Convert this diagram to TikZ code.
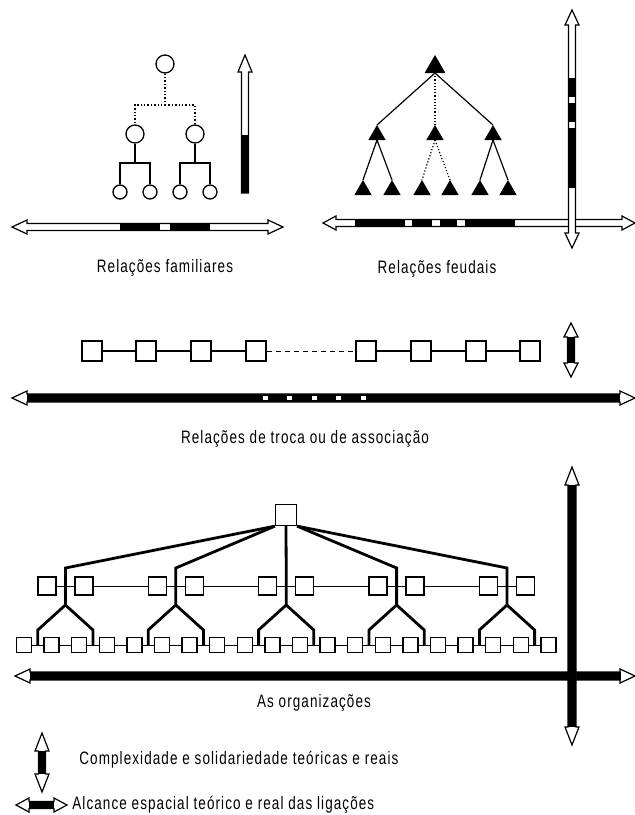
\documentclass[tikz,border=0pt]{standalone}
\usepackage{fontspec}
\setmainfont{Liberation Sans}
\newfontfamily\lblfont[FakeStretch=0.75,LetterSpace=6]{Liberation Sans}
\usetikzlibrary{shapes.geometric}

\def\shw{3.5}
% двойная стрелка: длина головки, левый конец, правый конец, y
\newcommand\hpipe[4][15]{%
    \draw[pipe] (#2,#4) -- ++(#1,-7) -- ++(0,{7-\shw}) -- ({#3-#1},{#4-\shw}) -- ++(0,{\shw-7})
        -- (#3,#4) -- ++(-#1,7) -- ++(0,{\shw-7}) -- ({#2+#1},{#4+\shw}) -- ++(0,{7-\shw}) -- cycle;}
% то же вертикально: длина головки, x, верхний конец, нижний конец
\newcommand\vpipe[4][15]{%
    \draw[pipe] (#2,#3) -- ++(7,#1) -- ++({\shw-7},0) -- ({#2+\shw},{#4-#1}) -- ++({7-\shw},0)
        -- (#2,#4) -- ++(-7,-#1) -- ++({7-\shw},0) -- ({#2-\shw},{#3+#1}) -- ++({\shw-7},0) -- cycle;}

\begin{document}
\begin{tikzpicture}[x=0.5pt, y=-0.5pt,
    pipe/.style={draw, fill=white, line width=0.6pt},
    circ/.style={circle, draw, fill=white, line width=0.65pt, inner sep=0pt, minimum size=#1},
    tri/.style={regular polygon, regular polygon sides=3, fill=black, inner sep=0pt, outer sep=0pt, minimum size=#1},
    box/.style={rectangle, draw, fill=white, line width=0.65pt, inner sep=0pt, minimum size=#1},
    famline/.style={line width=0.7pt},
    feuline/.style={line width=0.6pt},
    trocline/.style={line width=1pt},
    orgline/.style={line width=1.4pt},
    thinline/.style={line width=0.5pt},
    lbl/.style={font=\lblfont\fontsize{9}{11}\selectfont, inner sep=0pt}]
    \fill[white] (0,0) rectangle (635,815);
    \useasboundingbox (0,0) rectangle (635,815);

    % Семейные связи
    \node[circ=9pt] (avo) at (165,64) {};
    \node[circ=9pt] (pai1) at (135,134) {};
    \node[circ=9pt] (pai2) at (195,134) {};
    \foreach \n/\x in {f1/120, f2/150, f3/180, f4/210}
        \node[circ=7pt] (\n) at (\x,192) {};
    \coordinate (famtop) at (165,105);
    \coordinate (fam1) at (135,163);
    \coordinate (fam2) at (195,163);
    \draw[famline, densely dotted] (avo) -- (famtop) -| (pai1);
    \draw[famline, densely dotted] (famtop) -| (pai2);
    \draw[famline] (pai1) -- (fam1) -| (f1);
    \draw[famline] (fam1) -| (f2);
    \draw[famline] (pai2) -- (fam2) -| (f3);
    \draw[famline] (fam2) -| (f4);

    \draw[pipe] (245,55) -- (252,72) -- (248.5,72) -- (248.5,193) -- (241.5,193) -- (241.5,72) -- (238,72) -- cycle;
    \fill (241.5,135) rectangle (248.5,193);
    \hpipe{12}{283}{227}
    \fill (120,223.5) rectangle (160,230.5);
    \fill (170,223.5) rectangle (210,230.5);
    \node[lbl] (famlbl) at (165,268) {Relações familiares};

    % Феодальные связи
    \node[tri=12pt] (senhor) at (435,67) {};
    \foreach \n/\x in {v1/377, v2/435, v3/493}
        \node[tri=10pt] (\n) at (\x,135) {};
    \foreach \n/\x in {s1/363, s2/392, s3/422, s4/450, s5/480, s6/508}
        \node[tri=10pt] (\n) at (\x,190) {};
    \draw[feuline] (senhor.south) -- (v1.north);
    \draw[feuline, densely dotted] (senhor.south) -- (v2.north);
    \draw[feuline] (senhor.south) -- (v3.north);
    \draw[feuline] (v1.south) -- (s1.north);
    \draw[feuline] (v1.south) -- (s2.north);
    \draw[feuline, densely dotted] (v2.south) -- (s3.north);
    \draw[feuline, densely dotted] (v2.south) -- (s4.north);
    \draw[feuline] (v3.south) -- (s5.north);
    \draw[feuline] (v3.south) -- (s6.north);

    \hpipe[13]{323}{635}{223}
    \foreach \a/\b in {355/405, 412/432, 440/457, 465/515}
        \fill (\a,219.5) rectangle (\b,226.5);
    \vpipe{572}{10}{248}
    \foreach \a/\b in {78/97, 103/122, 128/188}
        \fill (568.5,\a) rectangle (575.5,\b);
    \node[lbl] (feulbl) at (437,269) {Relações feudais};

    % Обмен и ассоциации
    \foreach \i/\x in {1/92, 2/146, 3/201, 4/256, 5/366, 6/421, 7/476, 8/530}
        \node[box=10pt] (q\i) at (\x,351) {};
    \foreach \i/\j in {1/2, 2/3, 3/4, 5/6, 6/7, 7/8}
        \draw[trocline] (q\i) -- (q\j);
    \draw[thinline, dash pattern=on 2.5pt off 2pt] (q4) -- (q5);

    \vpipe[14]{571}{323}{377}
    \fill (567.5,337) rectangle (574.5,363);
    \def\shw{4}
    \hpipe{12}{635}{398}
    \fill (27,394) rectangle (620,402);
    \foreach \i in {0,...,4}
        \draw[fill=white, line width=0.3pt] ({262+24.5*\i},395.5) rectangle ++(6,5);
    \node[lbl] (troclbl) at (305,439) {Relações de troca ou de associação};

    % Организации
    \node[box=10.5pt] (chefe) at (286,515) {};
    \foreach \i in {0,...,19}
        \node[box=7.5pt] (b\i) at ({24+27.6*\i},645) {};
    \foreach \i [evaluate=\i as \j using int(\i+1)] in {0,...,18}
        \draw[thinline] (b\i) -- (b\j);
    \foreach \k/\a in {1/south west, 2/south west, 3/south, 4/south east, 5/south east} {
        \pgfmathsetmacro\xk{24+27.6*(4*\k-2.5)}
        \node[box=9pt] (ml\k) at ({\xk-18.5},586) {};
        \node[box=9pt] (mr\k) at ({\xk+18.5},586) {};
        \coordinate (j\k) at (\xk,568);
        \coordinate (g\k) at (\xk,605);
        \coordinate (gl\k) at ({\xk-27.6},630);
        \coordinate (gr\k) at ({\xk+27.6},630);
        \draw[orgline] (chefe.\a) -- (j\k) -- (g\k) -- (gl\k) -- (gl\k |- b0);
        \draw[orgline] (g\k) -- (gr\k) -- (gr\k |- b0);
    }
    \draw[thinline] (ml1) -- (mr1) -- (ml2) -- (mr2) -- (ml3) -- (mr3) -- (ml4) -- (mr4) -- (ml5) -- (mr5);

    \hpipe{15}{635}{676}
    \fill (30,672) rectangle (621,680);
    \vpipe[18]{572}{467}{745}
    \fill (568,485) rectangle (576,727);
    \node[lbl] (orglbl) at (314,703) {As organizações};

    % Легенда
    \def\shw{3.5}
    \vpipe[18]{42}{733}{792}
    \fill (38.5,751) rectangle (45.5,774);
    \node[lbl, anchor=west] (leg1) at (79,760) {Complexidade e solidariedade teóricas e reais};
    \hpipe[13]{16}{67}{805}
    \fill (29,801.5) rectangle (54,808.5);
    \node[lbl, anchor=west] (leg2) at (72,805) {Alcance espacial teórico e real das ligações};
\end{tikzpicture}
\end{document}
